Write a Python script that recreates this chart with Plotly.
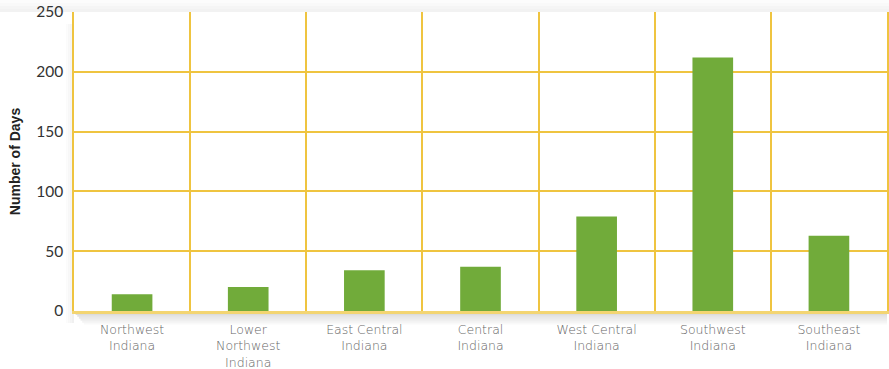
import plotly.graph_objects as go

regions = ["Northwest<br>Indiana", "Lower<br>Northwest<br>Indiana", "East Central<br>Indiana",
           "Central<br>Indiana", "West Central<br>Indiana", "Southwest<br>Indiana", "Southeast<br>Indiana"]
days = [14, 20, 34, 37, 79, 212, 63]
y_ticks = [0, 50, 100, 150, 200, 250]

GOLD = "#efc440"
fig = go.Figure()
fig.add_trace(go.Bar(x=regions, y=days, marker=dict(color="#71ab3a", line=dict(width=0)),
                     width=0.35, hoverinfo="x+y"))

# drop shadow below and left of the plot area
shapes = []
n = 7
for i in range(n):
    a = 0.16 * (1 - i / n)
    shapes.append(dict(type="rect", xref="paper", yref="paper", layer="below",
                       x0=0.0 + 0.002 * i, x1=1.0, y0=-(i + 1) * 0.0065, y1=-i * 0.0065,
                       fillcolor=f"rgba(0,0,0,{a:.3f})", line=dict(width=0)))
for i in range(4):
    a = 0.06 * (1 - i / 4)
    shapes.append(dict(type="rect", xref="paper", yref="paper", layer="below",
                       x0=-(i + 1) * 0.0025, x1=-i * 0.0025, y0=-0.04, y1=0.96,
                       fillcolor=f"rgba(0,0,0,{a:.3f})", line=dict(width=0)))
# faint shading band at top
for i in range(4):
    a = 0.05 * (1 - i / 4)
    shapes.append(dict(type="rect", xref="paper", yref="paper", layer="below",
                       x0=-0.1, x1=1.01, y0=1.0 + i * 0.01, y1=1.0 + (i + 1) * 0.01,
                       fillcolor=f"rgba(0,0,0,{a:.3f})", line=dict(width=0)))

fig.update_layout(
    width=889, height=369,
    margin=dict(l=74, r=2, t=12, b=58),
    paper_bgcolor="white", plot_bgcolor="white",
    showlegend=False,
    shapes=shapes,
    xaxis=dict(
        type="category", tickson="boundaries", showgrid=True, gridcolor=GOLD, gridwidth=1.5,
        showline=True, linecolor="#f3d572", linewidth=3, mirror=False,
        ticks="", ticklabelstandoff=5, automargin=False,
        tickfont=dict(family="'DejaVu Sans', sans-serif", size=12.5, color="#666666", weight=200),
        range=[-0.5, 6.5],
    ),
    yaxis=dict(
        range=[0, 250], tickvals=y_ticks, showgrid=True, gridcolor=GOLD, gridwidth=1.5,
        showline=True, linecolor=GOLD, linewidth=1.5, mirror=True, zeroline=False,
        ticks="", ticklabelstandoff=6, automargin=False,
        tickfont=dict(family="Lato, 'Open Sans', sans-serif", size=15.5, color="#333333"),
        title=dict(text="<b>Number of Days</b>", standoff=12,
                   font=dict(family="Liberation Sans, Arial, sans-serif", size=14, color="#222222")),
    ),
)
fig.write_html("out.html")
